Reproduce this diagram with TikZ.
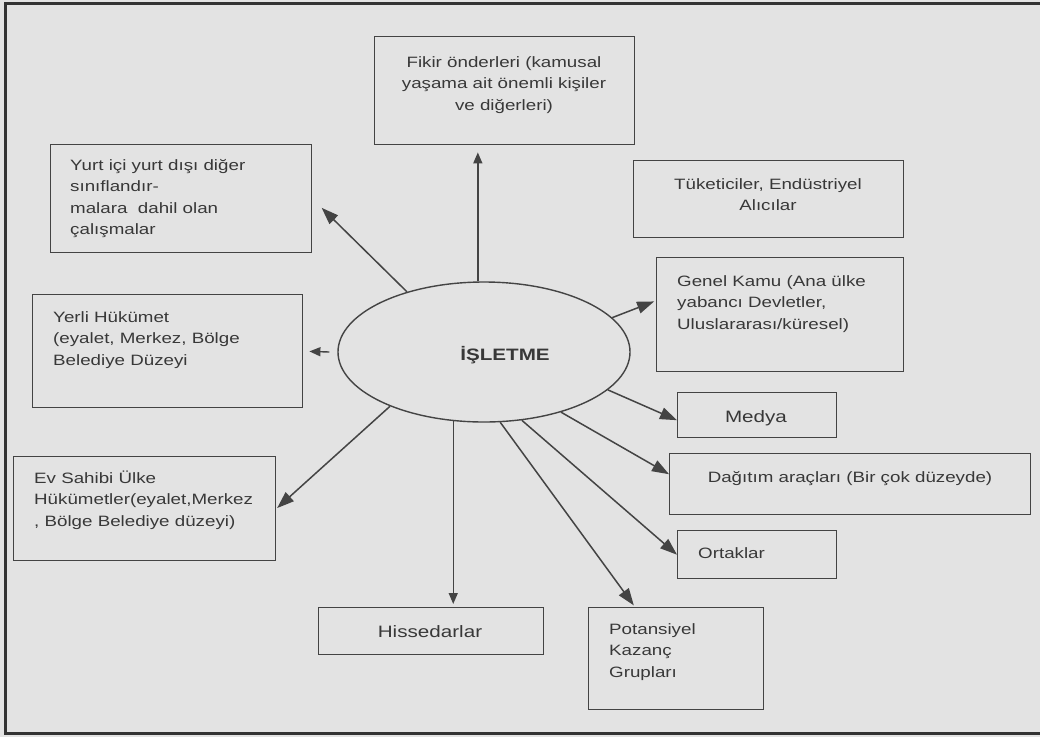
\documentclass[tikz,border=0pt]{standalone}
\usepackage{fontspec}
\setmainfont[FakeStretch=1.25]{Liberation Sans}
\usetikzlibrary{arrows.meta,shapes.geometric}
\definecolor{paper}{HTML}{E3E3E3}
\definecolor{ink}{HTML}{444444}
\definecolor{txtc}{HTML}{383838}
\tikzset{
  box/.style={draw=ink, line width=1.4pt, inner sep=0pt, anchor=north west},
  lbl/.style={inner sep=0pt, text=txtc, font=\fontsize{15}{21.5}\selectfont},
  lblbig/.style={inner sep=0pt, text=txtc, font=\fontsize{16.5}{21.5}\selectfont},
  arr/.style={draw=ink, line width=1.5pt, -{Triangle[length=17pt,width=12pt]}},
  arrsm/.style={draw=ink, line width=1.4pt, -{Triangle[length=11pt,width=9pt]}},
  frame/.style={draw=black!80, line width=3pt}
}
\begin{document}
\begin{tikzpicture}[x=1pt,y=-1pt]
\useasboundingbox (0,0) rectangle (1040,737);
\fill[paper] (0,0) rectangle (1040,737);
\draw[frame] (1040,3) -- (5,3) -- (5,733) -- (1040,733);

% boxes
\node[box, minimum width=260pt, minimum height=108pt] (fik) at (374,36) {};
\node[box, minimum width=261pt, minimum height=108pt] (yur) at (50,144) {};
\node[box, minimum width=270pt, minimum height=77pt]  (tuk) at (633,160) {};
\node[box, minimum width=247pt, minimum height=114pt] (gen) at (656,257) {};
\node[box, minimum width=270pt, minimum height=113pt] (yer) at (32,294) {};
\node[box, minimum width=262pt, minimum height=104pt] (ev)  at (13,456) {};
\node[box, minimum width=159pt, minimum height=45pt]  (med) at (677,392) {};
\node[box, minimum width=361pt, minimum height=61pt]  (dag) at (669,453) {};
\node[box, minimum width=159pt, minimum height=48pt]  (ort) at (677,530) {};
\node[box, minimum width=225pt, minimum height=47pt]  (his) at (318,607) {};
\node[box, minimum width=175pt, minimum height=102pt] (pot) at (588,607) {};

% center ellipse
\node[ellipse, draw=ink, line width=1.4pt, minimum width=292pt, minimum height=140pt, inner sep=0pt] (isl) at (484,352) {};

% texts
\node[lbl, anchor=north, align=center] (tfik) at (504,52) {\strut Fikir önderleri (kamusal\\yaşama ait önemli kişiler\\ve diğerleri)};
\node[lbl, anchor=north west, align=left] (tyur) at (70,155) {\strut Yurt içi yurt dışı diğer\\sınıflandır-\\malara\ \ dahil olan\\çalışmalar};
\node[lbl, anchor=north, align=center] (ttuk) at (768,174) {\strut Tüketiciler, Endüstriyel\\Alıcılar};
\node[lbl, anchor=north west, align=left] (tgen) at (677,271) {\strut Genel Kamu (Ana ülke\\yabancı Devletler,\\Uluslararası/küresel)};
\node[lbl, anchor=north west, align=left] (tyer) at (53,307) {\strut Yerli Hükümet\\(eyalet, Merkez, Bölge\\Belediye Düzeyi};
\node[lbl, anchor=north west, align=left] (tev) at (34,468) {\strut Ev Sahibi Ülke\\Hükümetler(eyalet,Merkez\\, Bölge Belediye düzeyi)};
\node[lblbig, anchor=north] (tmed) at (756,407.5) {\strut Medya};
\node[lbl, anchor=north] (tdag) at (850,467) {\strut Dağıtım araçları (Bir çok düzeyde)};
\node[lbl, anchor=north west] (tort) at (698,543) {\strut Ortaklar};
\node[lblbig, anchor=north] (this) at (430,622) {\strut Hissedarlar};
\node[lbl, anchor=north west, align=left] (tpot) at (609,619) {\strut Potansiyel\\Kazanç\\Grupları};
\node[lblbig, anchor=north, font=\fontsize{16.5}{21.5}\selectfont\bfseries] (tisl) at (505,345) {\strut İŞLETME};

% connectors
\draw[arrsm, shorten >=7pt] (isl.95.7) -- (isl.95.7 |- fik.south);
\draw[arr, shorten >=13pt] (isl.142.5) -- (yur.east);
\draw[arrsm, shorten >=6pt] ([xshift=-8pt]isl.west) -- (yer.east);
\draw[arr, shorten >=1pt] (isl.210) -- (ev.east);
\draw[arrsm, shorten >=3pt] (isl.246.3) -- (isl.246.3 |- his.north);
\draw[arr, shorten >=2pt] (isl.283) -- ([xshift=47pt]pot.north west);
\draw[arr] (isl.299) -- (ort.west);
\draw[arr] (isl.322) -- ([yshift=10pt]dag.west);
\draw[arr] (isl.343.4) -- ([yshift=-5pt]med.west);
\draw[arr, shorten >=2pt] (isl.15.7) -- ([yshift=14pt]gen.west);
\end{tikzpicture}
\end{document}
